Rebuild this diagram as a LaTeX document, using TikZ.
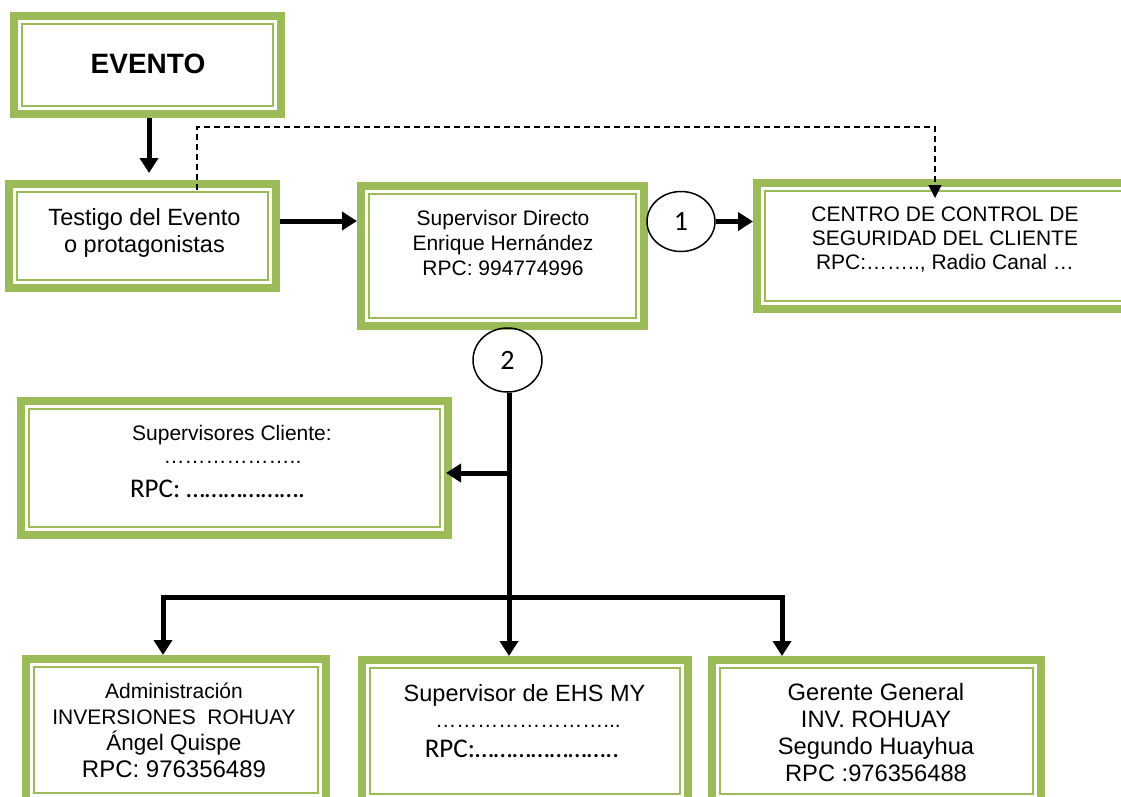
\documentclass[tikz,border=0pt]{standalone}
\usepackage{fontspec}
\setmainfont{Liberation Sans}
\newfontfamily\calibri{Carlito}
\usetikzlibrary{arrows.meta,shapes.geometric}

\definecolor{olivo}{RGB}{155,187,89}

\tikzset{
  gbox/.style={draw=olivo, line width=8pt, inner sep=0pt,
    path picture={\draw[olivo, line width=2.5pt]
      ([xshift=8pt,yshift=8pt]path picture bounding box.south west) rectangle
      ([xshift=-8pt,yshift=-8pt]path picture bounding box.north east);}},
  txt/.style={align=center, inner sep=0pt, font=\fontsize{21}{25}\selectfont},
  flecha/.style={line width=5pt, -{Triangle[length=15pt,width=18pt]}},
  ronda/.style={draw, ellipse, line width=1.5pt, inner sep=0pt,
    minimum width=68pt, minimum height=60pt, font=\calibri\fontsize{28}{30}\selectfont}
}

\begin{document}
\begin{tikzpicture}[x=1pt,y=-1pt]
\useasboundingbox (0,0) rectangle (1121,796);
\clip (0,0) rectangle (1121,796);
\fill[white] (0,0) rectangle (1121,796);

% cajas
\node[gbox, minimum width=267pt, minimum height=98pt] (evento) at (147.5,65) {};
\node[gbox, minimum width=267pt, minimum height=104pt] (testigo) at (142.5,236) {};
\node[gbox, minimum width=283pt, minimum height=140pt] (supdir) at (502.5,256) {};
\node[gbox, minimum width=376pt, minimum height=126pt] (centro) at (945,246) {};
\node[gbox, minimum width=427pt, minimum height=134pt] (supcli) at (234.5,468) {};
\node[gbox, minimum width=300pt, minimum height=142pt] (admin) at (176,730) {};
\node[gbox, minimum width=326pt, minimum height=142pt] (ehs) at (525,731) {};
\node[gbox, minimum width=329pt, minimum height=142pt] (gerente) at (876.5,731) {};

% textos
\node[txt, font=\bfseries\fontsize{28}{32}\selectfont] (evento-txt) at (148,64) {EVENTO};
\node[txt, font=\fontsize{23.5}{27}\selectfont] (testigo-txt) at (144.5,232.5) {Testigo del Evento\\o protagonistas};
\node[txt] (supdir-txt) at (503,242.5) {Supervisor Directo\\Enrique Hernández\\RPC: 994774996};
\node[txt, font=\fontsize{21}{24}\selectfont] (centro-txt) at (945,240) {CENTRO DE CONTROL DE\\SEGURIDAD DEL CLIENTE\\RPC:…….., Radio Canal …};

\node[txt, anchor=base] (supcli-a) at (232,440) {Supervisores Cliente:};
\node[txt, anchor=base] (supcli-b) at (232.5,463) {………………..};
\node[txt, anchor=base, font=\calibri\fontsize{27}{30}\selectfont] (supcli-c) at (217.5,497) {RPC: ……………….};

\node[txt, font=\fontsize{21}{26.3}\selectfont] (admin-txt) at (174,730)
  {Administración\\INVERSIONES\ \ ROHUAY\\{\fontsize{22.5}{26.3}\selectfont Ángel Quispe}\\{\fontsize{24}{26.3}\selectfont RPC: 976356489}};

\node[txt, anchor=base, font=\fontsize{23.5}{27}\selectfont] (ehs-a) at (524.5,701) {Supervisor de EHS MY};
\node[txt, anchor=base] (ehs-b) at (528,727) {……………………...};
\node[txt, anchor=base, font=\calibri\fontsize{27}{30}\selectfont] (ehs-c) at (522,757) {RPC:…………………..};

\node[txt, font=\fontsize{23.7}{27}\selectfont] (gerente-txt) at (876,733)
  {Gerente General\\INV. ROHUAY\\Segundo Huayhua\\RPC :976356488};

% circulos
\node[ronda] (c1) at (681,221.5) {1};
\node[ronda, minimum width=69pt, minimum height=64pt] (c2) at (507.5,360) {2};

% puntos del bus
\coordinate (rama) at (509,473);
\coordinate (bus) at (509,597);
\coordinate (busL) at (163,597);
\coordinate (busR) at (782,597);

% flechas
\draw[flecha, shorten >=7pt] ([xshift=1.5pt]evento.south) -- ([xshift=1.5pt]evento.south |- testigo.north);
\draw[flecha] ([yshift=15pt]testigo.east) -- ([yshift=15pt]testigo.east -| supdir.west);
\draw[flecha] (c1.east) -- (c1.east -| centro.west);
\draw[line width=1.5pt, dash pattern=on 6pt off 4pt, -{Triangle[length=13pt,width=13pt]}]
  ([xshift=54.5pt,yshift=-10pt]testigo.north) -- ++(0,-63) -| ([xshift=-10pt,yshift=-19pt]centro.north);

\draw[flecha] (c2.south -| bus) -- (bus |- ehs.north);
\draw[flecha, shorten >=-6pt] (rama) -- (rama -| supcli.east);
\draw[flecha] (bus) -- (busL) -- (busL |- admin.north);
\draw[flecha] (bus) -- (busR) -- (busR |- gerente.north);

\end{tikzpicture}
\end{document}
